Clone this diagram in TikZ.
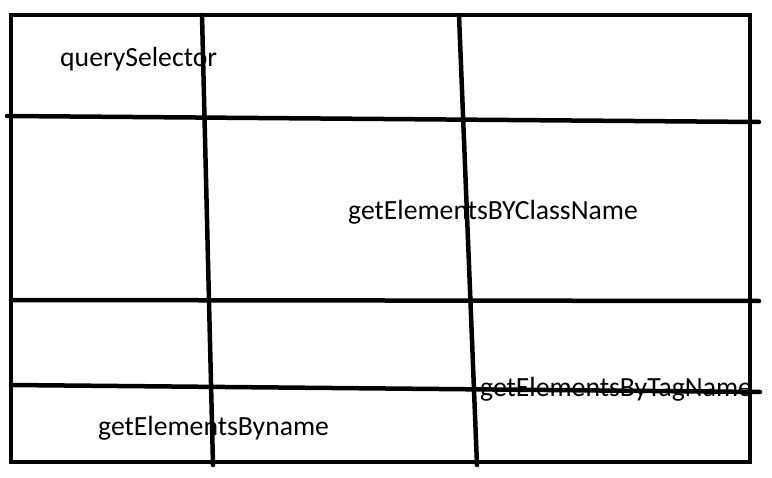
\documentclass[tikz,border=0pt]{standalone}
\usepackage{fontspec}
\setmainfont{Carlito}
\usetikzlibrary{positioning}

\tikzset{
	stroke/.style={line width=4.5bp, black, line cap=round},
	label text/.style={font=\fontsize{27.8}{32}\selectfont, inner sep=0pt, anchor=west}
}

\begin{document}
\begin{tikzpicture}[x=1bp,y=-1bp]
		\useasboundingbox (0,0) rectangle (772,478);
		% outer frame
		\draw[stroke] (11,15) rectangle (750,462);
		% corner points of the grid lines
		\coordinate (h1l) at (7,116);   \coordinate (h1r) at (759,122);
		\coordinate (h2l) at (11,300);  \coordinate (h2r) at (759,301);
		\coordinate (h3l) at (11,385);  \coordinate (h3r) at (760,392);
		\coordinate (v1t) at (202,15);  \coordinate (v1b) at (213,465);
		\coordinate (v2t) at (459,15);  \coordinate (v2b) at (477,465);
		\draw[stroke] (h1l) -- (h1r);
		\draw[stroke] (h2l) -- (h2r);
		\draw[stroke] (h3l) -- (h3r);
		\draw[stroke] (v1t) -- (v1b);
		\draw[stroke] (v2t) -- (v2b);
		% labels
		\node[label text] (qs) at (60,59) {querySelector};
		\node[label text] (cls) at (348,212) {getElementsBYClassName};
		\node[label text] (tag) at (480,389) {getElementsByTagName};
		\node[label text] (nam) at (98,428) {getElementsByname};
	\end{tikzpicture}
\end{document}
